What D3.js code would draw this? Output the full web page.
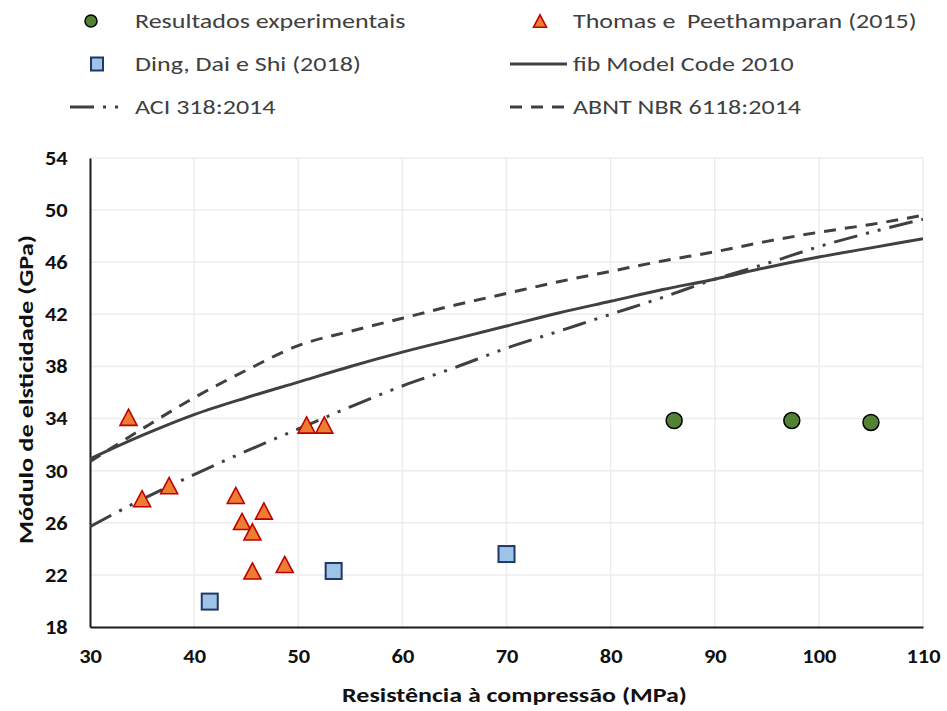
<!DOCTYPE html>
<html>
<head>
<meta charset="utf-8">
<script src="https://cdn.jsdelivr.net/npm/d3@7"></script>
<style>
  html, body { margin: 0; padding: 0; background: #fff; }
  svg { display: block; font-family: Carlito, Calibri, Lato, "Open Sans", sans-serif; }
  svg text { white-space: pre; }
</style>
</head>
<body>
<svg id="chart" width="947" height="711"></svg>
<script>
// Compressive strength (MPa) vs. modulus of elasticity (GPa)

// Experimental results
const expX = [86.1, 97.4, 105.0];
const expY = [33.85, 33.85, 33.7];

// Thomas e Peethamparan (2015)
const thomasX = [33.7, 35.0, 37.6, 44.0, 46.7, 44.6, 45.6, 45.6, 48.7, 50.8, 52.5];
const thomasY = [34.1, 27.85, 28.85, 28.1, 26.9, 26.1, 25.3, 22.3, 22.8, 33.5, 33.5];

// Ding, Dai e Shi (2018)
const dingX = [41.5, 53.4, 70.0];
const dingY = [19.95, 22.3, 23.6];

// Model curves, sampled every 5 MPa
const curveX = [30, 35, 40, 45, 50, 55, 60, 65, 70, 75, 80, 85, 90, 95, 100, 105, 110];
const fibY  = [30.9, 32.7, 34.3, 35.6, 36.8, 38.0, 39.1, 40.1, 41.1, 42.1, 43.0, 43.9, 44.7, 45.6, 46.4, 47.1, 47.8];
const aciY  = [25.7, 27.8, 29.7, 31.5, 33.2, 34.9, 36.5, 37.9, 39.4, 40.7, 42.0, 43.3, 44.7, 45.9, 47.2, 48.3, 49.3];
const abntY = [30.7, 33.2, 35.6, 37.7, 39.6, 40.7, 41.7, 42.7, 43.6, 44.5, 45.3, 46.1, 46.8, 47.6, 48.3, 48.9, 49.6];

// Axis ticks
const xTicks = [30, 40, 50, 60, 70, 80, 90, 100, 110];
const yTicks = [18, 22, 26, 30, 34, 38, 42, 46, 50, 54];

// Legend entries
const legendLabels = [
  "Resultados experimentais", "Thomas e  Peethamparan (2015)",
  "Ding, Dai e Shi (2018)", "fib Model Code 2010",
  "ACI 318:2014", "ABNT NBR 6118:2014"
];

const svg = d3.select("#chart");
const margin = { left: 90, right: 24, top: 158, bottom: 84 };
const W = 947, H = 711;

const x = d3.scaleLinear().domain([30, 110]).range([margin.left, W - margin.right]);
const y = d3.scaleLinear().domain([18, 54]).range([H - margin.bottom, margin.top]);

const lineColor = "#404040";
const dashStyle = "12,9";
const dashDotDot = "24,9,3,9,3,9";

// Text drawn with a slight horizontal widening, like the condensed face it stands in for
function wideText(g, tx, ty, str, sx, opts) {
  const t = g.append("text")
    .attr("transform", `translate(${tx},${ty}) scale(${sx},1)`)
    .text(str);
  Object.entries(opts || {}).forEach(([k, v]) => t.attr(k, v));
  return t;
}

// Gridlines
const grid = svg.append("g");
grid.selectAll("line.vg").data(xTicks.slice(1)).join("line")
  .attr("x1", d => x(d)).attr("x2", d => x(d))
  .attr("y1", y(18)).attr("y2", y(54))
  .attr("stroke", "#ececec").attr("stroke-width", 1.5);
grid.selectAll("line.hg").data(yTicks.slice(1)).join("line")
  .attr("x1", x(30)).attr("x2", x(110))
  .attr("y1", d => y(d)).attr("y2", d => y(d))
  .attr("stroke", "#ececec").attr("stroke-width", 1.5);

// Axes
const xAxis = svg.append("g").attr("transform", `translate(0,${y(18)})`)
  .call(d3.axisBottom(x).tickValues(xTicks).tickSize(0).tickPadding(22));
const yAxis = svg.append("g").attr("transform", `translate(${x(30)},0)`)
  .call(d3.axisLeft(y).tickValues(yTicks).tickSize(0).tickPadding(20));
[xAxis, yAxis].forEach(a => {
  a.select(".domain").attr("stroke", "#1a1a1a").attr("stroke-width", 2);
  a.selectAll("text").attr("font-family", "Carlito, Calibri, Lato, sans-serif")
    .attr("font-size", 20).attr("font-weight", "bold").attr("fill", "#111")
    .attr("transform", "scale(1.12,1)");
});
xAxis.selectAll("text").attr("dy", "0.71em");

// Axis titles
wideText(svg, (x(30) + x(110)) / 2 + 8, 702, "Resistência à compressão (MPa)", 1.3,
  { "text-anchor": "middle", "font-size": 20, "font-weight": "bold", "fill": "#111" });
svg.append("g").attr("transform", `translate(33,${(y(18) + y(54)) / 2 - 3}) rotate(-90)`)
  .call(g => wideText(g, 0, 0, "Módulo de elsticidade (GPa)", 1.32,
    { "text-anchor": "middle", "font-size": 20, "font-weight": "bold", "fill": "#111" }));

// Model curves
svg.append("clipPath").attr("id", "plotclip").append("rect")
  .attr("x", x(30)).attr("y", y(54)).attr("width", x(110) - x(30)).attr("height", y(18) - y(54));

const line = d3.line().x(d => x(d[0])).y(d => y(d[1])).curve(d3.curveMonotoneX);
const curves = [
  { ys: abntY, dash: dashStyle },
  { ys: aciY, dash: dashDotDot },
  { ys: fibY, dash: null }
];
const curveG = svg.append("g").attr("clip-path", "url(#plotclip)");
curves.forEach(c => {
  curveG.append("path")
    .datum(curveX.map((v, i) => [v, c.ys[i]]))
    .attr("d", line)
    .attr("fill", "none").attr("stroke", lineColor).attr("stroke-width", 3)
    .attr("stroke-linejoin", "round")
    .attr("stroke-dasharray", c.dash);
});

// Marker shapes
function triPath(cx, cy, s) {
  const h = s * 0.95;
  return `M${cx},${cy - h / 2}L${cx + s / 2},${cy + h / 2}L${cx - s / 2},${cy + h / 2}Z`;
}
const triStyle = g => g.attr("fill", "#ED7D31").attr("stroke", "#C00000").attr("stroke-width", 1.6);
const sqStyle = g => g.attr("fill", "#9DC3E6").attr("stroke", "#1F3864").attr("stroke-width", 2);
const circStyle = g => g.attr("fill", "#548235").attr("stroke", "#000").attr("stroke-width", 1.5);

const markers = svg.append("g");
markers.selectAll("path.tri").data(thomasX.map((v, i) => [v, thomasY[i]])).join("path")
  .attr("d", d => triPath(x(d[0]), y(d[1]), 17)).call(triStyle);
markers.selectAll("rect.sq").data(dingX.map((v, i) => [v, dingY[i]])).join("rect")
  .attr("x", d => x(d[0]) - 8).attr("y", d => y(d[1]) - 8)
  .attr("width", 16).attr("height", 16).call(sqStyle);
markers.selectAll("circle.exp").data(expX.map((v, i) => [v, expY[i]])).join("circle")
  .attr("cx", d => x(d[0])).attr("cy", d => y(d[1])).attr("r", 8).call(circStyle);

// Legend
const leg = svg.append("g").attr("font-size", 21).attr("fill", "#404040");
const colText = [135, 573];
const rowY = [21, 64, 107];
legendLabels.forEach((t, i) => {
  const col = i % 2, row = Math.floor(i / 2);
  wideText(leg, colText[col], rowY[row], t, 1.24, { "dy": "0.35em" });
});
leg.append("circle").attr("cx", 91).attr("cy", rowY[0]).attr("r", 6).call(circStyle);
leg.append("path").attr("d", triPath(540, rowY[0], 13)).call(triStyle);
leg.append("rect").attr("x", 91).attr("y", rowY[1] - 6.5).attr("width", 12).attr("height", 13).call(sqStyle);
leg.append("line").attr("x1", 510).attr("x2", 567).attr("y1", rowY[1]).attr("y2", rowY[1])
  .attr("stroke", lineColor).attr("stroke-width", 3);
leg.append("line").attr("x1", 70).attr("x2", 127).attr("y1", rowY[2]).attr("y2", rowY[2])
  .attr("stroke", lineColor).attr("stroke-width", 3).attr("stroke-dasharray", dashDotDot);
leg.append("line").attr("x1", 510).attr("x2", 567).attr("y1", rowY[2]).attr("y2", rowY[2])
  .attr("stroke", lineColor).attr("stroke-width", 3).attr("stroke-dasharray", dashStyle);
</script>
</body>
</html>
